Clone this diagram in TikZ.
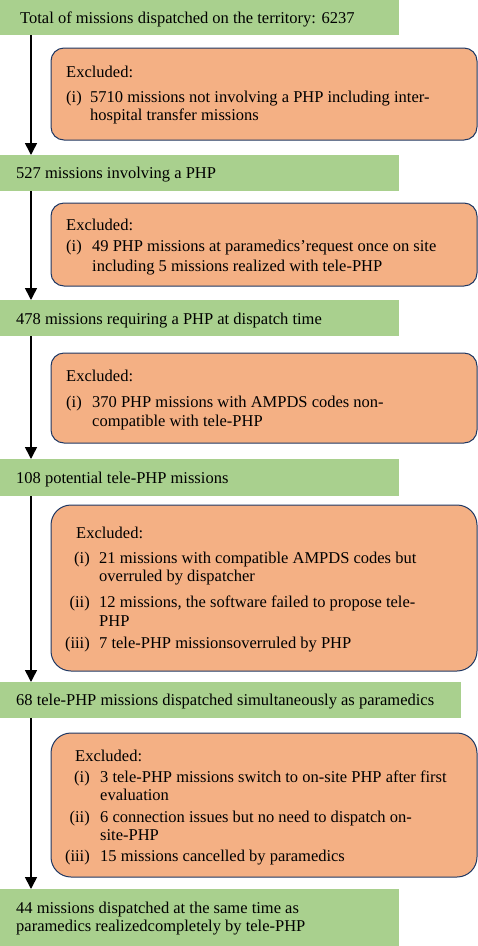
\documentclass[tikz,border=0pt]{standalone}
\usepackage{fontspec}
\setmainfont{Liberation Serif}
\usetikzlibrary{arrows.meta}
\definecolor{boxgreen}{HTML}{A9D08E}
\definecolor{boxorange}{HTML}{F4B084}
\definecolor{navy}{HTML}{1F3864}
\begin{document}
\begin{tikzpicture}[x=1pt,y=-1pt,
  gbox/.style={fill=boxgreen, draw=none, inner sep=0pt, outer sep=0pt, anchor=north west},
  obox/.style={fill=boxorange, draw=navy, line width=1pt, rounded corners=13pt, inner sep=0pt, outer sep=0pt, anchor=north west},
  txt/.style={anchor=base west, inner sep=0pt, font=\fontsize{16.5}{20}\selectfont},
  lbl/.style={anchor=base east, inner sep=0pt, font=\fontsize{16.5}{20}\selectfont},
  arr/.style={line width=1.6pt, -{Triangle[length=12pt,width=12pt]}}]
\useasboundingbox (0,0) rectangle (478,946);
% green boxes
\node[gbox, minimum width=399pt, minimum height=35pt] (g1) at (0,0) {};
\node[gbox, minimum width=399pt, minimum height=36pt] (g2) at (0,155) {};
\node[gbox, minimum width=399pt, minimum height=36pt] (g3) at (0,300) {};
\node[gbox, minimum width=399pt, minimum height=37pt] (g4) at (0,459) {};
\node[gbox, minimum width=461pt, minimum height=36pt] (g5) at (0,682) {};
\node[gbox, minimum width=399pt, minimum height=57pt] (g6) at (0,889) {};
% orange boxes
\node[obox, minimum width=426pt, minimum height=92pt] (o1) at (51,48) {};
\node[obox, minimum width=426pt, minimum height=83pt] (o2) at (51,203) {};
\node[obox, minimum width=426pt, minimum height=90pt] (o3) at (51,353) {};
\node[obox, rounded corners=20pt, minimum width=426pt, minimum height=166pt] (o4) at (51,505) {};
\node[obox, rounded corners=20pt, minimum width=426pt, minimum height=144pt] (o5) at (51,733) {};
% arrows
\draw[arr] ([xshift=31pt]g1.south west) -- ([xshift=31pt]g2.north west);
\draw[arr] ([xshift=31pt]g2.south west) -- ([xshift=31pt]g3.north west);
\draw[arr] ([xshift=31pt]g3.south west) -- ([xshift=31pt]g4.north west);
\draw[arr] ([xshift=31pt]g4.south west) -- ([xshift=31pt]g5.north west);
\draw[arr] ([xshift=31pt]g5.south west) -- ([xshift=31pt]g6.north west);
% green texts
\node[txt] (t1) at (20,23) {Total of missions dispatched on the territory: 6237};
\node[txt] (t2) at (16,178) {527 missions involving a PHP};
\node[txt] (t3) at (16,324) {478 missions requiring a PHP at dispatch time};
\node[txt] (t4) at (16,483) {108 potential tele-PHP missions};
\node[txt] (t5) at (16,705) {68 tele-PHP missions dispatched simultaneously as paramedics};
\node[txt] (t6a) at (16,913) {44 missions dispatched at the same time as};
\node[txt] (t6b) at (16,931) {paramedics realizedcompletely by tele-PHP};
% orange box 1
\node[txt] (e1) at (66,77) {Excluded:};
\node[txt] (e1l) at (66,102) {(i)};
\node[txt] (e1a) at (90,102) {5710 missions not involving a PHP including inter-};
\node[txt] (e1b) at (90,120) {hospital transfer missions};
% orange box 2
\node[txt] (e2) at (66,230) {Excluded:};
\node[txt] (e2l) at (66,251) {(i)};
\node[txt] (e2a) at (92,251) {49 PHP missions at paramedics’request once on site};
\node[txt] (e2b) at (92,271) {including 5 missions realized with tele-PHP};
% orange box 3
\node[txt] (e3) at (66,381) {Excluded:};
\node[txt] (e3l) at (66,407) {(i)};
\node[txt] (e3a) at (92,407) {370 PHP missions with AMPDS codes non-};
\node[txt] (e3b) at (92,426) {compatible with tele-PHP};
% orange box 4
\node[txt] (e4) at (76,538) {Excluded:};
\node[lbl] (e4l1) at (90,563) {(i)};
\node[txt] (e4a) at (99,563) {21 missions with compatible AMPDS codes but};
\node[txt] (e4b) at (99,581) {overruled by dispatcher};
\node[lbl] (e4l2) at (90,607) {(ii)};
\node[txt] (e4c) at (99,607) {12 missions, the software failed to propose tele-};
\node[txt] (e4d) at (99,626) {PHP};
\node[lbl] (e4l3) at (90,648) {(iii)};
\node[txt] (e4e) at (99,648) {7 tele-PHP missionsoverruled by PHP};
% orange box 5
\node[txt] (e5) at (75,761) {Excluded:};
\node[lbl] (e5l1) at (90,782) {(i)};
\node[txt] (e5a) at (100,782) {3 tele-PHP missions switch to on-site PHP after first};
\node[txt] (e5b) at (100,800) {evaluation};
\node[lbl] (e5l2) at (90,822) {(ii)};
\node[txt] (e5c) at (100,822) {6 connection issues but no need to dispatch on-};
\node[txt] (e5d) at (100,840) {site-PHP};
\node[lbl] (e5l3) at (90,861) {(iii)};
\node[txt] (e5e) at (100,861) {15 missions cancelled by paramedics};
\end{tikzpicture}
\end{document}
